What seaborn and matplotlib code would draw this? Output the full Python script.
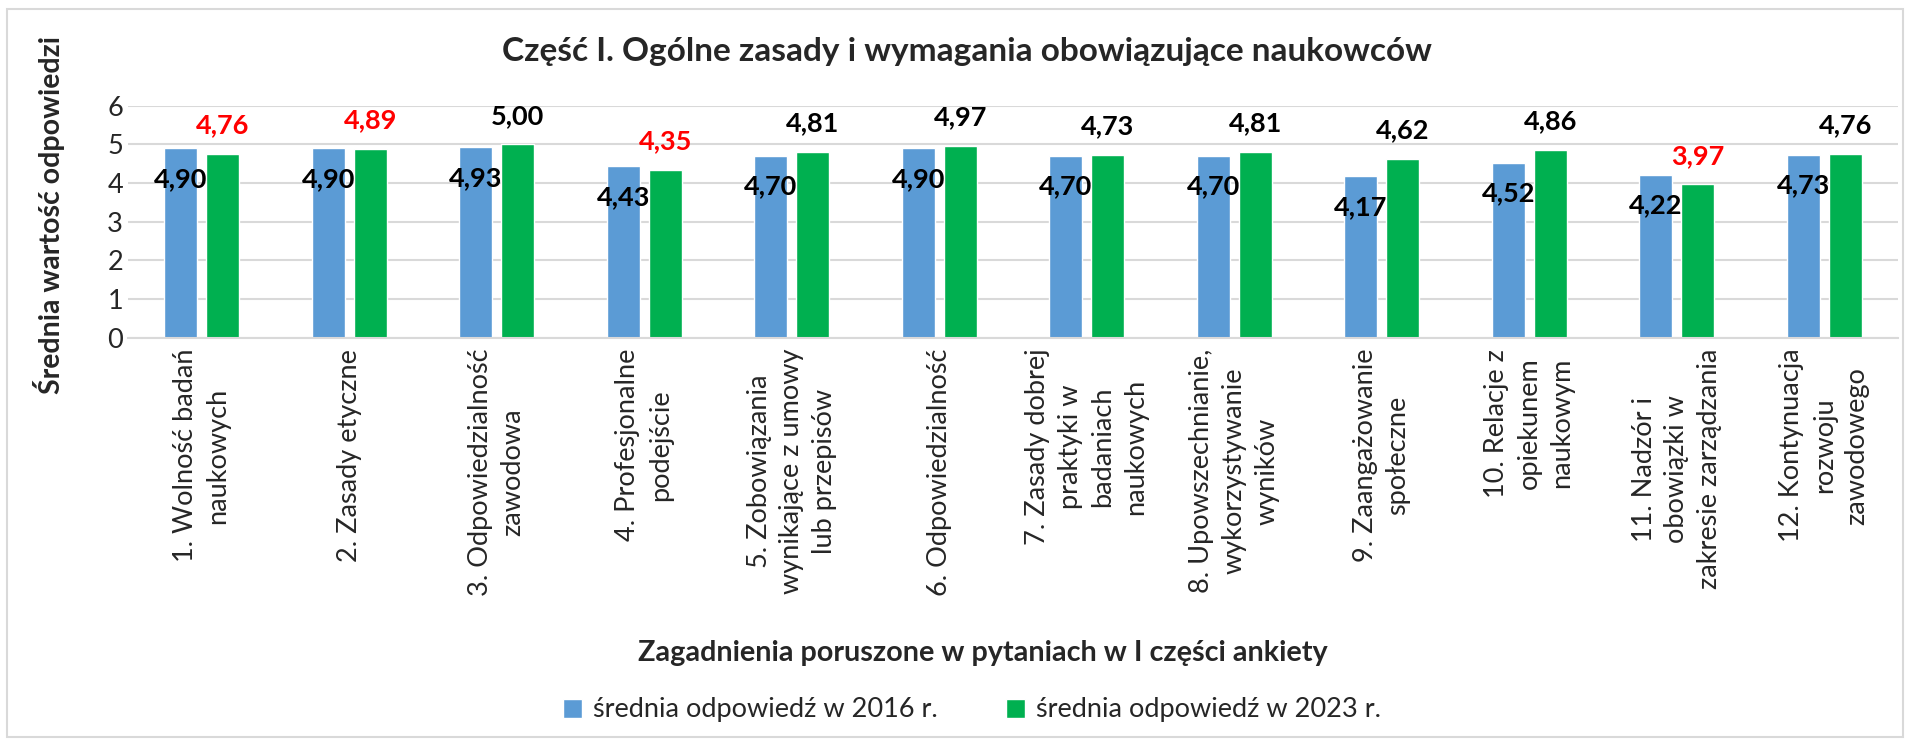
import pandas as pd
import matplotlib.pyplot as plt
import seaborn as sns
from matplotlib.patches import Rectangle

# Data
categories = [
    '1. Wolność badań\nnaukowych',
    '2. Zasady etyczne',
    '3. Odpowiedzialność\nzawodowa',
    '4. Profesjonalne\npodejście',
    '5. Zobowiązania\nwynikające z umowy\nlub przepisów',
    '6. Odpowiedzialność',
    '7. Zasady dobrej\npraktyki w\nbadaniach\nnaukowych',
    '8. Upowszechnianie,\nwykorzystywanie\nwyników',
    '9. Zaangażowanie\nspołeczne',
    '10. Relacje z\nopiekunem\nnaukowym',
    '11. Nadzór i\nobowiązki w\nzakresie zarządzania',
    '12. Kontynuacja\nrozwoju\nzawodowego',
]
values_2016 = [4.90, 4.90, 4.93, 4.43, 4.70, 4.90, 4.70, 4.70, 4.17, 4.52, 4.22, 4.73]
values_2023 = [4.76, 4.89, 5.00, 4.35, 4.81, 4.97, 4.73, 4.81, 4.62, 4.86, 3.97, 4.76]
series_names = ['średnia odpowiedź w 2016 r.', 'średnia odpowiedź w 2023 r.']

blue = '#5B9BD5'
green = '#00B050'
grid_gray = '#D9D9D9'

df = pd.DataFrame({
    'kategoria': categories * 2,
    'wartosc': values_2016 + values_2023,
    'seria': [series_names[0]] * len(categories) + [series_names[1]] * len(categories),
})

sns.set_style('white')
plt.rcParams['font.family'] = ['Lato', 'DejaVu Sans']

fig = plt.figure(figsize=(19.1, 7.45), dpi=100)
ax = fig.add_axes([0.067, 0.5467, 0.9267, 0.3114])

sns.barplot(data=df, x='kategoria', y='wartosc', hue='seria', palette=[blue, green],
            width=0.57, gap=0.215, ax=ax, legend=True, saturation=1)

ax.set_ylim(0, 6)
ax.set_xlim(-0.5, len(categories) - 0.5)
ax.set_yticks(range(7))
ax.yaxis.grid(True, color=grid_gray, linewidth=1.5)
ax.set_axisbelow(True)
for side in ['left', 'right', 'top']:
    ax.spines[side].set_visible(False)
ax.spines['bottom'].set_color(grid_gray)
ax.spines['bottom'].set_linewidth(1.5)
ax.tick_params(axis='both', length=0, labelsize=19.5)
ax.tick_params(axis='x', pad=8)
ax.set_xlabel('')
ax.set_ylabel('')
for lbl in ax.get_xticklabels():
    lbl.set_rotation(90)
    lbl.set_multialignment('center')
    lbl.set_linespacing(1.38)
    lbl.set_va('top')
    lbl.set_ha('center')

# Data labels
blue_bars, green_bars = ax.containers[0], ax.containers[1]
for bar, v in zip(blue_bars, values_2016):
    ax.annotate(f'{v:.2f}'.replace('.', ','), (bar.get_x() + bar.get_width() / 2, v),
                xytext=(0, -22), textcoords='offset points', ha='center', va='center',
                fontsize=19.5, fontweight='bold', color='black')
for bar, v, v_old in zip(green_bars, values_2023, values_2016):
    ax.annotate(f'{v:.2f}'.replace('.', ','), (bar.get_x() + bar.get_width() / 2, v),
                xytext=(0, 20.5), textcoords='offset points', ha='center', va='center',
                fontsize=19.5, fontweight='bold', color='#FF0000' if v < v_old else 'black')

handles, labels = ax.get_legend_handles_labels()
ax.get_legend().remove()
fig.legend(handles, labels, loc='center', bbox_to_anchor=(972 / 1910, 1 - 710 / 745), ncol=2,
           frameon=False, fontsize=19.5, handlelength=0.7, handleheight=0.7, handletextpad=0.4,
           columnspacing=2.5)

fig.text(967 / 1910, 1 - 52 / 745, 'Część I. Ogólne zasady i wymagania obowiązujące naukowców',
         ha='center', va='center', fontsize=24, fontweight='bold')
fig.text(983 / 1910, 1 - 653 / 745, 'Zagadnienia poruszone w pytaniach w I części ankiety',
         ha='center', va='center', fontsize=20.7, fontweight='bold')
fig.text(49 / 1910, 1 - 215 / 745, 'Średnia wartość odpowiedzi', rotation=90,
         ha='center', va='center', fontsize=20.5, fontweight='bold')

fig.patches.append(Rectangle((7 / 1910, 8 / 745), 1896 / 1910, 728 / 745, transform=fig.transFigure,
                             fill=False, edgecolor=grid_gray, linewidth=1.5))

fig.savefig('out.png', dpi=100)
